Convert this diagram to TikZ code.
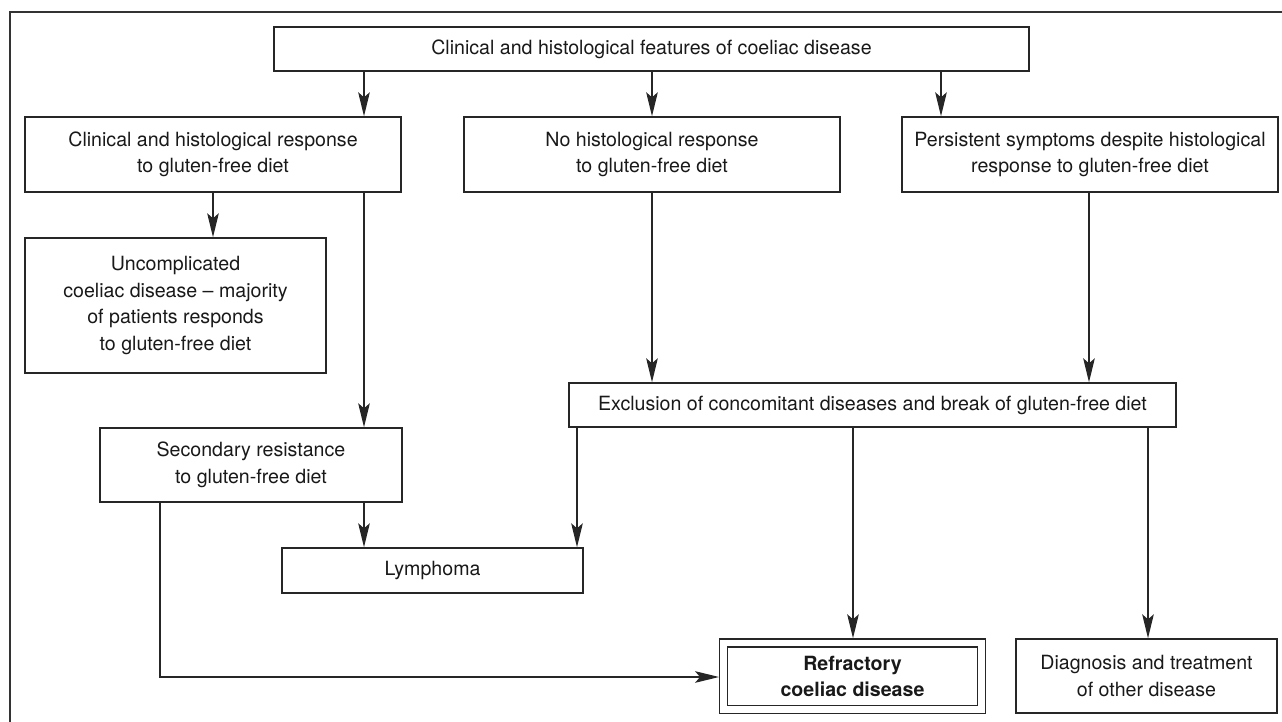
\documentclass[tikz,border=0pt]{standalone}
\usepackage{fontspec}
\setmainfont{TeX Gyre Heros}
\usetikzlibrary{arrows.meta}
\tikzset{
  box/.style={draw=black!85, line width=0.7pt, align=center, inner sep=0pt,
    font=\fontsize{9.8}{13.3}\selectfont, text=black!90},
  arr/.style={draw=black!85, line width=0.7pt, -{Stealth[length=12pt,width=5.8pt,inset=2.5pt]}},
  conn/.style={draw=black!85, line width=0.7pt},
  frame/.style={draw=black!80, line width=0.7pt}
}
\begin{document}
\begin{tikzpicture}[x=0.5pt,y=-0.5pt]
\useasboundingbox (0,0) rectangle (1282,722);
\draw[frame] (10,722) -- (10,12) -- (1282,12);

\node[box, minimum width=377.5pt, minimum height=22pt] (top) at (651.5,49)
  {Clinical and histological features of coeliac disease};
\node[box, minimum width=188pt, minimum height=37.5pt] (A) at (213,154.5)
  {Clinical and histological response\\to gluten-free diet};
\node[box, minimum width=188pt, minimum height=37.5pt] (B) at (652,154.5)
  {No histological response\\to gluten-free diet};
\node[box, minimum width=188pt, minimum height=37.5pt] (C) at (1090,154.5)
  {Persistent symptoms despite histological\\response to gluten-free diet};
\node[box, minimum width=150.5pt, minimum height=67.5pt] (U) at (175.5,305.5)
  {Uncomplicated\\coeliac disease – majority\\of patients responds\\to gluten-free diet};
\node[box, minimum width=303.5pt, minimum height=22pt] (E) at (872.5,405)
  {Exclusion of concomitant diseases and break of gluten-free diet};
\node[box, minimum width=151pt, minimum height=37pt] (S) at (251,465)
  {Secondary resistance\\to gluten-free diet};
\node[box, minimum width=150.5pt, minimum height=22.5pt] (L) at (432.5,570.5)
  {Lymphoma};
\node[box, double, double distance=3.3pt, outer sep=2.35pt,
  minimum width=128.75pt, minimum height=33.25pt, font=\fontsize{9.8}{13.3}\selectfont\bfseries] (R) at (852.5,676.25)
  {Refractory\\coeliac disease};
\node[box, minimum width=130.5pt, minimum height=37pt] (D) at (1146.5,676)
  {Diagnosis and treatment\\of other disease};

\draw[arr] (top.south -| 364,0) -- (A.north -| 364,0);
\draw[arr] (top.south -| 652,0) -- (B.north -| 652,0);
\draw[arr] (top.south -| 941,0) -- (C.north -| 941,0);
\draw[arr] (A.south -| 213,0) -- (U.north -| 213,0);
\draw[arr] (A.south -| 364,0) -- (S.north -| 364,0);
\draw[arr] (B.south -| 652,0) -- (E.north -| 652,0);
\draw[arr] (C.south -| 1089,0) -- (E.north -| 1089,0);
\draw[arr] (S.south -| 364,0) -- (L.north -| 364,0);
\draw[arr] (E.south -| 577,0) -- (L.north -| 577,0);
\draw[arr] (E.south -| 853,0) -- (R.north -| 853,0);
\draw[arr] (E.south -| 1148,0) -- (D.north -| 1148,0);
\coordinate (bend) at (160,677);
\draw[arr] (S.south -| bend) -- (bend) -- (R.west |- bend);
\end{tikzpicture}
\end{document}
